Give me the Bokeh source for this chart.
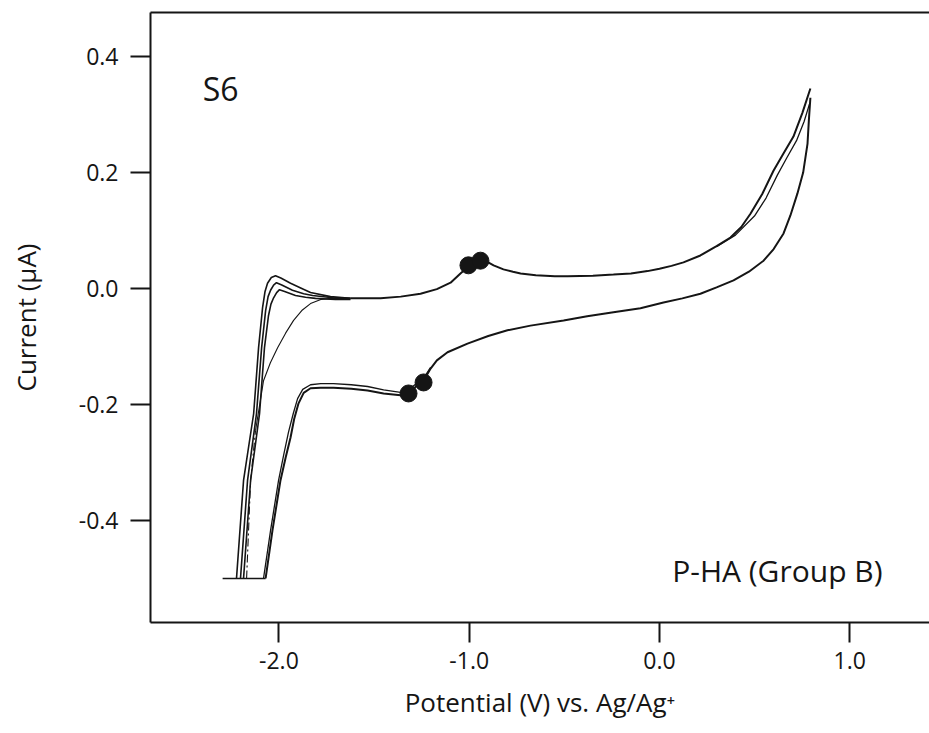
from bokeh.plotting import figure
from bokeh.models import FixedTicker, PrintfTickFormatter, LinearAxis, Label
from bokeh.embed import file_html
from bokeh.resources import INLINE

# ---- data ----
# common anodic (forward) branch
UP_X = [-1.624, -1.466, -1.36, -1.256, -1.17, -1.098, -1.046, -1.004, -0.930, -0.90, -0.872,
        -0.82, -0.77, -0.73, -0.65, -0.55, -0.483, -0.35, -0.242, -0.15, -0.063, 0.0, 0.063,
        0.126, 0.215, 0.30, 0.373, 0.43, 0.478, 0.54, 0.599, 0.65, 0.704, 0.751, 0.793]
UP_Y = [-0.017, -0.017, -0.014, -0.009, -0.001, 0.010, 0.026, 0.038, 0.047, 0.045, 0.040,
        0.033, 0.029, 0.026, 0.023, 0.021, 0.021, 0.022, 0.024, 0.026, 0.030, 0.034, 0.039,
        0.045, 0.057, 0.073, 0.088, 0.106, 0.129, 0.163, 0.203, 0.232, 0.262, 0.303, 0.345]
# second cycle, end of anodic branch
UP2_X = [0.300, 0.399, 0.499, 0.560, 0.620, 0.670, 0.720, 0.760, 0.788]
UP2_Y = [0.072, 0.092, 0.125, 0.156, 0.196, 0.226, 0.255, 0.288, 0.318]
# three cycles near the -2.0 V re-oxidation peak
PA_X = [-2.223, -2.186, -2.133, -2.107, -2.086, -2.073, -2.060, -2.040, -2.018, -1.990,
        -1.939, -1.880, -1.834, -1.729, -1.624]
PA_Y = [-0.500, -0.331, -0.216, -0.102, -0.033, -0.005, 0.009, 0.019, 0.022, 0.018,
        0.009, 0.000, -0.007, -0.014, -0.017]
PB_X = [-2.202, -2.165, -2.118, -2.091, -2.070, -2.057, -2.044, -2.028, -2.013, -1.985,
        -1.929, -1.870, -1.823, -1.718, -1.624]
PB_Y = [-0.500, -0.331, -0.216, -0.102, -0.038, -0.014, -0.003, 0.006, 0.010, 0.006,
        -0.003, -0.009, -0.012, -0.016, -0.017]
PC_X = [-2.186, -2.149, -2.102, -2.076, -2.055, -2.042, -2.028, -2.012, -1.997, -1.970,
        -1.913, -1.860, -1.808, -1.703, -1.624]
PC_Y = [-0.500, -0.331, -0.216, -0.102, -0.047, -0.027, -0.016, -0.007, -0.002, -0.005,
        -0.012, -0.015, -0.017, -0.019, -0.019]
# first scan (thin line)
TS_X = [-2.123, -2.100, -2.081, -2.045, -2.007, -1.965, -1.923, -1.880, -1.834, -1.780, -1.729, -1.624]
TS_Y = [-0.245, -0.198, -0.159, -0.128, -0.102, -0.077, -0.055, -0.038, -0.026, -0.019, -0.017, -0.017]
TD_X = [-2.170, -2.149, -2.123]
TD_Y = [-0.500, -0.331, -0.245]
# cathodic (reverse) branch
LO_X = [0.793, 0.785, 0.778, 0.755, 0.725, 0.688, 0.652, 0.600, 0.547, 0.470, 0.389, 0.300,
        0.215, 0.120, 0.021, -0.100, -0.242, -0.380, -0.504, -0.678, -0.799, -0.900,
        -1.009, -1.114, -1.170, -1.203, -1.240, -1.319, -1.361, -1.450, -1.534, -1.620,
        -1.713, -1.780, -1.834, -1.870, -1.897, -1.920, -1.939, -1.965, -1.992, -2.034, -2.070]
LO_Y = [0.329, 0.290, 0.250, 0.200, 0.164, 0.126, 0.095, 0.068, 0.048, 0.029, 0.014, 0.002,
        -0.009, -0.017, -0.024, -0.034, -0.041, -0.048, -0.055, -0.064, -0.072, -0.082,
        -0.095, -0.110, -0.124, -0.138, -0.159, -0.179, -0.184, -0.181, -0.176, -0.173,
        -0.171, -0.171, -0.172, -0.180, -0.198, -0.225, -0.257, -0.292, -0.331, -0.417, -0.500]
LO2_X = [-1.203, -1.240, -1.319, -1.361, -1.450, -1.534, -1.620, -1.713, -1.780, -1.834,
         -1.875, -1.902, -1.925, -1.950, -1.975, -2.002, -2.044, -2.081]
LO2_Y = [-0.136, -0.155, -0.174, -0.179, -0.175, -0.169, -0.166, -0.164, -0.164, -0.166,
         -0.174, -0.190, -0.216, -0.248, -0.287, -0.331, -0.417, -0.500]
# clipped bottom
BOT_X = [-2.296, -2.070]
BOT_Y = [-0.500, -0.500]
# marked peaks
DOT_X = [-1.004, -0.941, -1.240, -1.319]
DOT_Y = [0.040, 0.048, -0.162, -0.181]

X_TICKS = [-2.0, -1.0, 0.0, 1.0]
Y_TICKS = [-0.4, -0.2, 0.0, 0.2, 0.4]

FONT = "Open Sans"
INK = "#151515"

p = figure(width=929, height=733, x_range=(-2.675, 1.419), y_range=(-0.576, 0.476),
           output_backend="svg", toolbar_location=None,
           min_border_left=150, min_border_right=0, min_border_top=12, min_border_bottom=111)
p.outline_line_color = None
p.xgrid.grid_line_color = None
p.ygrid.grid_line_color = None
p.background_fill_color = "white"
p.border_fill_color = "white"

for ax, ticks in ((p.xaxis[0], X_TICKS), (p.yaxis[0], Y_TICKS)):
    ax.ticker = FixedTicker(ticks=ticks)
    ax.formatter = PrintfTickFormatter(format="%.1f")
    ax.axis_line_width = 2
    ax.axis_line_color = INK
    ax.major_tick_line_width = 2
    ax.major_tick_line_color = INK
    ax.major_tick_in = 0
    ax.major_tick_out = 20
    ax.minor_tick_line_color = None
    ax.major_label_text_font = FONT
    ax.major_label_text_font_size = "23px"
    ax.major_label_text_color = INK
    ax.axis_label_text_font = FONT
    ax.axis_label_text_font_size = "26px"
    ax.axis_label_text_font_style = "normal"
    ax.axis_label_text_color = INK

p.xaxis[0].axis_label = "Potential (V) vs. Ag/Ag\u207a"
p.xaxis[0].major_label_standoff = 9
p.xaxis[0].axis_label_standoff = 12
p.yaxis[0].axis_label = "Current (\u03bcA)"
p.yaxis[0].major_label_standoff = 12
p.yaxis[0].axis_label_standoff = 32

top = LinearAxis(ticker=FixedTicker(ticks=[]), axis_line_width=2, axis_line_color=INK,
                 major_tick_out=0, major_tick_in=0, minor_tick_line_color=None,
                 major_label_standoff=0, major_label_text_font_size="0px")
p.add_layout(top, "above")

lw = 1.6
p.line(UP_X, UP_Y, line_color=INK, line_width=2)
p.line(UP2_X, UP2_Y, line_color=INK, line_width=1.3)
p.line(PA_X, PA_Y, line_color=INK, line_width=lw)
p.line(PB_X, PB_Y, line_color=INK, line_width=lw)
p.line(PC_X, PC_Y, line_color=INK, line_width=lw)
p.line(TS_X, TS_Y, line_color=INK, line_width=1.1)
p.line(TD_X, TD_Y, line_color=INK, line_width=1.1, line_dash="8 3 2 3")
p.line(LO_X, LO_Y, line_color=INK, line_width=2)
p.line(LO2_X, LO2_Y, line_color=INK, line_width=1.3)
p.line(BOT_X, BOT_Y, line_color=INK, line_width=1.5)
p.scatter(DOT_X, DOT_Y, size=17, fill_color=INK, line_color=INK)

p.add_layout(Label(x=-2.40, y=0.345, text="S6", text_font=FONT, text_font_size="32px",
                   text_color=INK, text_baseline="alphabetic"))
p.add_layout(Label(x=1.172, y=-0.486, text="P-HA (Group B)", text_font=FONT,
                   text_font_size="30px", text_color=INK, text_align="right",
                   text_baseline="alphabetic"))

open("out.html", "w").write(file_html(p, INLINE))
